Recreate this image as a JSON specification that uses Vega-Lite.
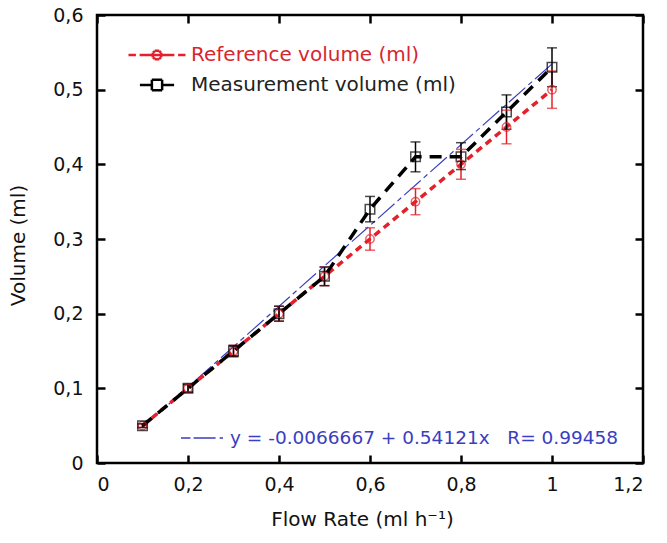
{
  "$schema": "https://vega.github.io/schema/vega-lite/v6.json",
  "width": 546,
  "height": 448,
  "autosize": "none",
  "padding": {"left": 97, "top": 15, "right": 24, "bottom": 80},
  "background": "white",
  "datasets": {
    "volumes": [
      {"flow": 0.1, "vol": 0.05, "lo": 0.0475, "hi": 0.0525, "series": "Reference volume (ml)"},
      {"flow": 0.2, "vol": 0.10, "lo": 0.095, "hi": 0.105, "series": "Reference volume (ml)"},
      {"flow": 0.3, "vol": 0.15, "lo": 0.1425, "hi": 0.1575, "series": "Reference volume (ml)"},
      {"flow": 0.4, "vol": 0.20, "lo": 0.19, "hi": 0.21, "series": "Reference volume (ml)"},
      {"flow": 0.5, "vol": 0.25, "lo": 0.2375, "hi": 0.2625, "series": "Reference volume (ml)"},
      {"flow": 0.6, "vol": 0.30, "lo": 0.285, "hi": 0.315, "series": "Reference volume (ml)"},
      {"flow": 0.7, "vol": 0.35, "lo": 0.3325, "hi": 0.3675, "series": "Reference volume (ml)"},
      {"flow": 0.8, "vol": 0.40, "lo": 0.38, "hi": 0.42, "series": "Reference volume (ml)"},
      {"flow": 0.9, "vol": 0.45, "lo": 0.4275, "hi": 0.4725, "series": "Reference volume (ml)"},
      {"flow": 1.0, "vol": 0.50, "lo": 0.475, "hi": 0.525, "series": "Reference volume (ml)"},
      {"flow": 0.1, "vol": 0.05, "lo": 0.0475, "hi": 0.0525, "series": "Measurement volume (ml)"},
      {"flow": 0.2, "vol": 0.10, "lo": 0.095, "hi": 0.105, "series": "Measurement volume (ml)"},
      {"flow": 0.3, "vol": 0.15, "lo": 0.1425, "hi": 0.1575, "series": "Measurement volume (ml)"},
      {"flow": 0.4, "vol": 0.20, "lo": 0.19, "hi": 0.21, "series": "Measurement volume (ml)"},
      {"flow": 0.5, "vol": 0.25, "lo": 0.2375, "hi": 0.2625, "series": "Measurement volume (ml)"},
      {"flow": 0.6, "vol": 0.34, "lo": 0.323, "hi": 0.357, "series": "Measurement volume (ml)"},
      {"flow": 0.7, "vol": 0.41, "lo": 0.39, "hi": 0.43, "series": "Measurement volume (ml)"},
      {"flow": 0.8, "vol": 0.41, "lo": 0.393, "hi": 0.429, "series": "Measurement volume (ml)"},
      {"flow": 0.9, "vol": 0.47, "lo": 0.447, "hi": 0.493, "series": "Measurement volume (ml)"},
      {"flow": 1.0, "vol": 0.53, "lo": 0.504, "hi": 0.556, "series": "Measurement volume (ml)"}
    ],
    "fit": [
      {"flow": 0.1, "vol": 0.0475, "label": "y = -0.0066667 + 0.54121x\u00a0\u00a0\u00a0R= 0.99458"},
      {"flow": 1.0, "vol": 0.5345, "label": "y = -0.0066667 + 0.54121x\u00a0\u00a0\u00a0R= 0.99458"}
    ]
  },
  "layer": [
    {
      "data": {"name": "fit"},
      "mark": {"type": "line", "opacity": 0},
      "encoding": {
        "x": {"field": "flow", "type": "quantitative", "scale": {"domain": [0, 1.2], "nice": false, "zero": false},
          "axis": {"orient": "bottom", "offset": -8, "zindex": 2, "domain": false, "labels": false, "ticks": true, "tickSize": 8, "tickWidth": 2.5, "tickColor": "#000000", "title": null, "values": [0, 0.2, 0.4, 0.6, 0.8, 1, 1.2]}},
        "y": {"field": "vol", "type": "quantitative", "scale": {"domain": [0, 0.6], "nice": false, "zero": false},
          "axis": {"orient": "left", "offset": -8, "zindex": 2, "domain": false, "labels": false, "ticks": true, "tickSize": 8, "tickWidth": 2.5, "tickColor": "#000000", "title": null, "values": [0, 0.1, 0.2, 0.3, 0.4, 0.5, 0.6]}}
      }
    },
    {
      "data": {"name": "fit"},
      "mark": {"type": "line", "opacity": 0},
      "encoding": {
        "x": {"field": "flow", "type": "quantitative", "scale": {"domain": [0, 1.2], "nice": false, "zero": false},
          "axis": {"orient": "top", "offset": -8, "zindex": 2, "domain": false, "labels": false, "ticks": true, "tickSize": 8, "tickWidth": 2.5, "tickColor": "#000000", "title": null, "values": [0, 0.2, 0.4, 0.6, 0.8, 1, 1.2]}},
        "y": {"field": "vol", "type": "quantitative", "scale": {"domain": [0, 0.6], "nice": false, "zero": false},
          "axis": {"orient": "right", "offset": -8, "zindex": 2, "domain": false, "labels": false, "ticks": true, "tickSize": 8, "tickWidth": 2.5, "tickColor": "#000000", "title": null, "values": [0, 0.1, 0.2, 0.3, 0.4, 0.5, 0.6]}}
      }
    },
    {
      "encoding": {
        "x": {
          "field": "flow",
          "type": "quantitative",
          "title": "Flow Rate (ml h⁻¹)",
          "scale": {"domain": [0, 1.2], "nice": false, "zero": false},
          "axis": {
            "values": [0, 0.2, 0.4, 0.6, 0.8, 1, 1.2],
            "format": ".1~f",
            "labelExpr": "replace(datum.label, '.', ',')",
            "ticks": false,
            "domain": false,
            "labelPadding": 12,
            "titlePadding": 15,
            "titleX": 265
          }
        },
        "y": {
          "field": "vol",
          "type": "quantitative",
          "title": "Volume (ml)",
          "scale": {"domain": [0, 0.6], "nice": false, "zero": false},
          "axis": {
            "values": [0, 0.1, 0.2, 0.3, 0.4, 0.5, 0.6],
            "format": ".1~f",
            "labelExpr": "replace(datum.label, '.', ',')",
            "ticks": false,
            "domain": false,
            "labelPadding": 14,
            "titlePadding": 24,
            "titleY": 230
          }
        }
      },
      "layer": [
        {
          "data": {"name": "fit"},
          "mark": {"type": "line", "color": "#3a3ec0", "strokeWidth": 1.2},
          "encoding": {
            "strokeDash": {
              "field": "label",
              "type": "nominal",
              "scale": {"range": [[22, 4, 5, 4]]},
              "legend": {
                "orient": "none",
                "legendX": 83,
                "legendY": 401,
                "title": null,
                "symbolType": "M-1,0H-0.55M-0.4,0H1",
                "symbolSize": 1764,
                "symbolStrokeColor": "#3a3ec0",
                "symbolStrokeWidth": 1.5,
                "labelColor": "#3a3ec0",
                "labelFontSize": 18.5,
                "labelOffset": 6,
                "labelLimit": 600,
                "encode": {"symbols": {"update": {"strokeDash": {"value": [1, 0]}}}}
              }
            }
          }
        },
        {
          "data": {"name": "volumes"},
          "layer": [
            {
              "transform": [{"filter": "datum.series == 'Reference volume (ml)'"}],
              "mark": {"type": "line", "strokeWidth": 3.5, "strokeDash": [7, 5]},
              "encoding": {
                "color": {
                  "field": "series",
                  "type": "nominal",
                  "scale": {"domain": ["Reference volume (ml)", "Measurement volume (ml)"], "range": ["#e3202b", "#000000"]},
                  "legend": {
                    "orient": "none",
                    "legendX": 30,
                    "legendY": 26,
                    "title": null,
                    "labelFontSize": 20,
                    "symbolSize": 3249,
                    "symbolStrokeWidth": 2.5,
                    "labelOffset": 4,
                    "labelLimit": 400,
                    "clipHeight": 28,
                    "rowPadding": 2,
                    "encode": {
                      "symbols": {
                        "update": {
                          "shape": {"signal": "datum.value == 'Reference volume (ml)' ? 'M-1,0H-0.74M-0.61,0H-0.35M-0.35,0H-0.16M0.16,0H0.35M0.35,0H0.61M0.74,0H1M-0.16,0H0.16M0.16,0L0.139,0.08M0.139,0.08L0.08,0.139M0.08,0.139L0,0.16M0,0.16L-0.08,0.139M-0.08,0.139L-0.139,0.08M-0.139,0.08L-0.16,0M-0.16,0L-0.139,-0.08M-0.139,-0.08L-0.08,-0.139M-0.08,-0.139L0,-0.16M0,-0.16L0.08,-0.139M0.08,-0.139L0.139,-0.08M0.139,-0.08L0.16,0' : 'M-0.6,0H-0.18M0.18,0H0.6M-0.18,-0.18H0.18M0.18,-0.18V0.18M0.18,0.18H-0.18M-0.18,0.18V-0.18'"},
                          "strokeDash": {"value": [1, 0]}
                        }
                      },
                      "labels": {
                        "update": {
                          "fill": {"signal": "datum.value == 'Reference volume (ml)' ? '#d8262f' : '#222222'"}
                        }
                      }
                    }
                  }
                }
              }
            },
            {
              "transform": [{"filter": "datum.series == 'Measurement volume (ml)'"}],
              "mark": {"type": "line", "strokeWidth": 3.5, "strokeDash": [12, 8]},
              "encoding": {"color": {"field": "series", "type": "nominal", "legend": null}}
            },
            {
              "mark": {"type": "rule", "strokeWidth": 1.5},
              "encoding": {
                "y": {"field": "lo", "type": "quantitative"},
                "y2": {"field": "hi"},
                "color": {"field": "series", "type": "nominal", "legend": null}
              }
            },
            {
              "mark": {"type": "tick", "orient": "horizontal", "size": 10, "thickness": 1.5},
              "encoding": {
                "y": {"field": "lo", "type": "quantitative"},
                "color": {"field": "series", "type": "nominal", "legend": null}
              }
            },
            {
              "mark": {"type": "tick", "orient": "horizontal", "size": 10, "thickness": 1.5},
              "encoding": {
                "y": {"field": "hi", "type": "quantitative"},
                "color": {"field": "series", "type": "nominal", "legend": null}
              }
            },
            {
              "transform": [{"filter": "datum.series == 'Reference volume (ml)'"}],
              "mark": {"type": "point", "shape": "circle", "filled": false, "size": 70, "strokeWidth": 1.5},
              "encoding": {"color": {"field": "series", "type": "nominal", "legend": null}}
            },
            {
              "transform": [{"filter": "datum.series == 'Measurement volume (ml)'"}],
              "mark": {"type": "point", "shape": "square", "filled": false, "size": 90, "strokeWidth": 1.5},
              "encoding": {"color": {"field": "series", "type": "nominal", "legend": null}}
            }
          ]
        }
      ]
    }
  ],
  "resolve": {"scale": {"x": "independent", "y": "independent"}, "axis": {"x": "independent", "y": "independent"}},
  "config": {
    "view": {"stroke": "#000000", "strokeWidth": 2.5},
    "axis": {
      "grid": false,
      "domainColor": "#000000",
      "domainWidth": 2.5,
      "tickColor": "#000000",
      "tickWidth": 2,
      "tickSize": 7,
      "labelFont": "DejaVu Sans",
      "labelFontSize": 19,
      "labelColor": "#111111",
      "titleFont": "DejaVu Sans",
      "titleFontSize": 20,
      "titleFontWeight": "normal",
      "titleColor": "#111111"
    },
    "legend": {
      "labelFont": "DejaVu Sans",
      "padding": 0
    }
  }
}
